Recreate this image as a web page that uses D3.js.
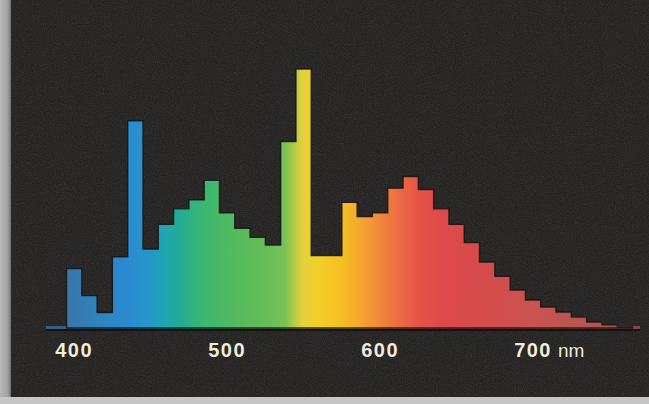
<!DOCTYPE html>
<html>
<head>
<meta charset="utf-8">
<script src="https://cdn.jsdelivr.net/npm/d3@7"></script>
<style>
  html, body { margin: 0; padding: 0; background: #252422; }
  svg { display: block; }
</style>
</head>
<body>
<svg id="chart" width="649" height="404"></svg>
<script>
// Spectral power distribution, 10 nm bins (bin start wavelength, nm)
const binStart = [395, 405, 415, 425, 435, 445, 455, 465, 475, 485,
                  495, 505, 515, 525, 535, 545, 555, 565, 575, 585,
                  595, 605, 615, 625, 635, 645, 655, 665, 675, 685,
                  695, 705, 715, 725, 735, 745, 755];
const binWidth = 10;
// Relative power per bin (strongest line = 100)
const power = [23, 12.5, 6, 27.5, 80, 30.5, 40, 46, 49.5, 57,
               44.5, 38.5, 35, 32, 72, 100, 28, 28, 48.5, 43,
               44.5, 54, 58.5, 53.5, 46, 40, 33, 25.5, 20, 14.7,
               10.8, 8.1, 6.2, 4.2, 2.3, 1.2, 0.4];
// Axis tick labels
const tickValues = [400, 500, 600, 700];
const unitLabel = "nm";

// Colour of light at each wavelength (nm -> colour)
const spectrumNm = [395, 415, 435, 450, 460, 470, 480, 495, 510, 525, 538, 545, 550, 560, 575, 590, 600, 612, 625, 640, 665, 700, 740, 765];
const spectrumColor = ["#3b75a6", "#3182bd", "#2a8bd2", "#2598c8", "#1fa6b0", "#22ad90", "#36b579", "#48b966", "#58bb5a", "#64be58", "#78c256", "#bccd44", "#e6d13a", "#f3cf28", "#f5be22", "#f4a030", "#f08838", "#ec6c42", "#e55447", "#df4949", "#d64b4c", "#c95450", "#b55650", "#a35250"];

const svg = d3.select("#chart");
const W = 649, H = 404;

const x = d3.scaleLinear().domain([395, 765]).range([66.5, 632.5]);
const y = d3.scaleLinear().domain([0, 100]).range([328, 69]);

const defs = svg.append("defs");

// grain of the printed page
const grain = defs.append("filter").attr("id", "grain")
  .attr("x", 0).attr("y", 0).attr("width", "100%").attr("height", "100%");
grain.append("feTurbulence").attr("type", "fractalNoise")
  .attr("baseFrequency", 0.9).attr("numOctaves", 2).attr("seed", 7).attr("result", "n");
grain.append("feColorMatrix").attr("in", "n").attr("type", "matrix")
  .attr("values", "0 0 0 0 0.45  0 0 0 0 0.45  0 0 0 0 0.45  0.9 0.3 0 0 -0.45");

const grad = defs.append("linearGradient").attr("id", "spectrum")
  .attr("gradientUnits", "userSpaceOnUse")
  .attr("x1", x(395)).attr("x2", x(765)).attr("y1", 0).attr("y2", 0);
spectrumNm.forEach((nm, i) => {
  grad.append("stop")
    .attr("offset", (nm - 395) / (765 - 395))
    .attr("stop-color", spectrumColor[i]);
});

const sideGrad = defs.append("linearGradient").attr("id", "side")
  .attr("x1", 0).attr("x2", 1).attr("y1", 0).attr("y2", 0);
sideGrad.append("stop").attr("offset", 0).attr("stop-color", "#b9b9b9");
sideGrad.append("stop").attr("offset", 0.7).attr("stop-color", "#a2a2a2");
sideGrad.append("stop").attr("offset", 1).attr("stop-color", "#6e6e6e");

// dark panel
svg.append("rect").attr("x", 0).attr("y", 0).attr("width", W).attr("height", H).attr("fill", "#242321");
svg.append("rect").attr("x", 0).attr("y", 0).attr("width", W).attr("height", H)
  .attr("filter", "url(#grain)").attr("opacity", 0.25);

// spectrum strip along the baseline
svg.append("rect")
  .attr("x", 46).attr("width", 594)
  .attr("y", y(0) - 2).attr("height", 3)
  .attr("fill", "url(#spectrum)").attr("opacity", 0.75);
svg.append("line")
  .attr("x1", 46).attr("x2", 640)
  .attr("y1", y(0) + 2).attr("y2", y(0) + 2)
  .attr("stroke", "#141312").attr("stroke-width", 2);

// stepped spectrum
const pts = binStart.map((nm, i) => ({ nm, v: power[i] }));
pts.push({ nm: binStart[binStart.length - 1] + binWidth, v: power[power.length - 1] });

const area = d3.area()
  .curve(d3.curveStepAfter)
  .x(d => x(d.nm))
  .y0(y(0))
  .y1(d => y(d.v));

svg.append("path")
  .datum(pts)
  .attr("d", area)
  .attr("fill", "url(#spectrum)")
  .attr("stroke", "#141312")
  .attr("stroke-width", 1.4)
  .attr("stroke-opacity", 0.85)
  .attr("stroke-linejoin", "miter");

// axis labels
const labels = svg.append("g")
  .attr("font-family", "'Liberation Sans', Arial, sans-serif")
  .attr("font-weight", "bold")
  .attr("font-size", 20)
  .attr("fill", "#f1eddc");

tickValues.forEach(v => {
  labels.append("text")
    .attr("x", x(v))
    .attr("y", 357)
    .attr("text-anchor", "middle")
    .attr("letter-spacing", 1.5)
    .attr("stroke", "#1a1918").attr("stroke-width", 0.6).attr("paint-order", "stroke")
    .text(v);
});
const lastTick = labels.selectAll("text").filter((d, i) => i === tickValues.length - 1).node();
const half = lastTick.getComputedTextLength() / 2;
labels.append("text")
  .attr("x", x(tickValues[tickValues.length - 1]) + half + 6)
  .attr("y", 357)
  .attr("font-weight", "normal")
  .attr("font-size", 19)
  .attr("stroke", "#1a1918").attr("stroke-width", 0.6).attr("paint-order", "stroke")
  .text(unitLabel);

// scan border: grey strip on the left and bottom
svg.append("rect").attr("x", 0).attr("y", 0).attr("width", 11).attr("height", H).attr("fill", "url(#side)");
svg.append("rect").attr("x", 0).attr("y", 397).attr("width", W).attr("height", 7).attr("fill", "#c6c6c6");
</script>
</body>
</html>
